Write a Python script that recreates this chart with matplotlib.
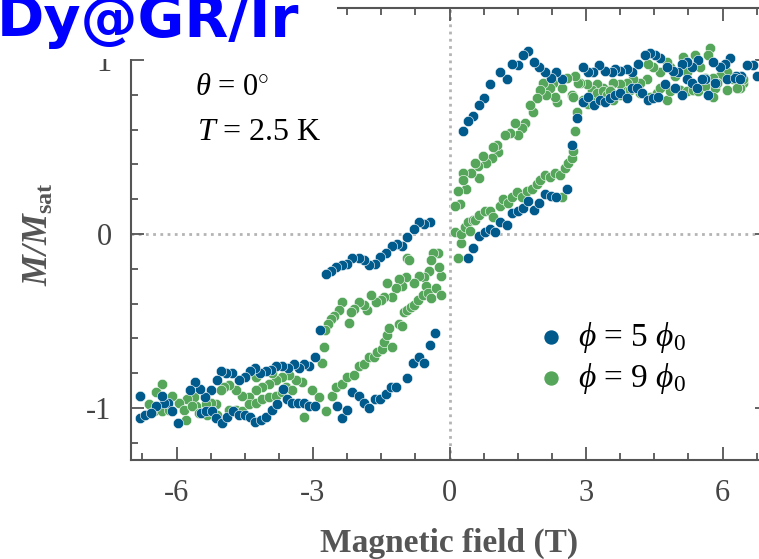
import numpy as np
import matplotlib
matplotlib.use("Agg")
import matplotlib.pyplot as plt
from matplotlib.ticker import MultipleLocator
from matplotlib.patches import Rectangle

# phi = 5 phi_0, field sweeping down (+ -> -)
field_5_down = [6.76, 6.67, 6.54, 6.41, 6.30, 6.17, 6.06, 5.95, 5.79, 5.62, 5.46, 5.33, 5.22, 5.11,
                5.02, 4.91, 4.78, 4.63, 4.52, 4.41, 4.30, 4.14, 4.01, 3.90, 3.74, 3.63, 3.57, 3.41,
                3.28, 3.15, 3.04, 2.93, 2.47, 2.33, 2.22, 2.09, 1.96, 1.85, 1.72, 1.61, 1.50, 1.37,
                1.26, 1.12, 0.90, 0.75, 0.64, 0.51, 0.40, 0.29,
                -0.42, -0.55, -0.68, -0.79, -0.93, -1.04, -1.15, -1.26, -1.39, -1.52, -1.63, -1.76,
                -1.87, -2.00, -2.14, -2.25, -2.36, -2.49, -2.60, -2.71, -2.84, -2.95, -3.08, -3.19,
                -3.30, -3.41, -3.55, -3.68, -3.81, -3.92, -4.03, -4.16, -4.27, -4.38, -4.49, -4.63,
                -4.78, -4.91, -5.02, -5.11, -5.24, -5.37, -5.48, -5.59, -5.70, -6.19, -6.28, -6.32,
                -6.45, -6.81]
m_5_down = [0.91, 0.97, 0.97, 0.91, 0.91, 1.01, 0.98, 0.96, 0.99, 0.89, 1.00, 0.96, 0.99, 0.98,
            0.93, 0.94, 0.96, 1.01, 1.03, 1.04, 1.03, 0.98, 0.93, 0.95, 0.94, 0.95, 0.93, 0.94,
            0.97, 0.93, 0.93, 0.96, 0.89, 0.93, 0.90, 0.93, 0.96, 0.99, 1.05, 1.03, 0.97, 0.98,
            0.89, 0.93, 0.86, 0.78, 0.74, 0.68, 0.65, 0.59,
            0.07, 0.06, 0.07, 0.03, -0.02, -0.07, -0.06, -0.07, -0.11, -0.13, -0.17, -0.18,
            -0.15, -0.14, -0.14, -0.17, -0.18, -0.19, -0.21, -0.23, -0.55, -0.71, -0.76, -0.75,
            -0.77, -0.75, -0.77, -0.76, -0.76, -0.78, -0.79, -0.80, -0.77, -0.79, -0.82, -0.84,
            -0.80, -0.80, -0.79, -0.84, -0.90, -0.94, -0.89, -0.85, -0.90, -0.97, -0.97, -0.93,
            -0.99, -0.93]

# phi = 5 phi_0, field sweeping up (- -> +)
field_5_up = [-6.81, -6.70, -6.56, -6.10, -5.97, -5.46, -5.35, -5.22, -5.13, -5.00, -4.89, -4.76,
              -4.63, -4.49, -4.38, -4.27, -4.14, -4.03, -3.90, -3.79, -3.66, -3.57, -3.46, -3.32,
              -3.19, -3.08, -2.95, -2.47, -2.36, -2.25, -2.14, -2.00, -1.87, -1.76, -1.63, -1.52,
              -1.39, -1.28, -1.17, -0.93, -0.81, -0.68, -0.55, -0.42, -0.31,
              0.40, 0.51, 0.64, 0.77, 0.90, 1.01, 1.12, 1.26, 1.37, 1.50, 1.61, 1.72, 1.85, 1.96,
              2.09, 2.22, 2.33, 2.58, 2.69, 2.80, 2.93, 3.04, 3.17, 3.30, 3.41, 3.52, 3.63, 3.74,
              3.90, 4.01, 4.12, 4.23, 4.36, 4.47, 4.58, 4.74, 4.96, 5.11, 5.22, 5.33, 5.44, 5.55,
              5.68, 5.84, 6.10, 6.28, 6.39]
m_5_up = [-1.06, -1.04, -1.03, -1.02, -1.09, -1.03, -1.02, -1.02, -1.06, -1.09, -1.05, -1.02,
          -1.04, -1.04, -1.05, -1.08, -1.07, -1.05, -1.01, -0.98, -0.89, -0.95, -0.97, -0.97,
          -0.97, -0.99, -0.99, -0.99, -1.06, -1.01, -0.91, -0.93, -0.97, -1.00, -0.95, -0.95,
          -0.92, -0.88, -0.88, -0.83, -0.74, -0.71, -0.74, -0.64, -0.57,
          -0.14, -0.08, -0.01, 0.01, 0.03, 0.01, 0.07, 0.05, 0.12, 0.13, 0.15, 0.19, 0.14, 0.18,
          0.23, 0.22, 0.21, 0.26, 0.51, 0.67, 0.76, 0.79, 0.74, 0.77, 0.76, 0.78, 0.80, 0.81,
          0.78, 0.84, 0.84, 0.81, 0.77, 0.78, 0.79, 0.86, 0.84, 0.80, 0.89, 0.87, 0.84, 0.89,
          0.80, 0.87, 0.89, 0.90, 0.89]

# phi = 9 phi_0, field sweeping down
field_9_down = [6.45, 6.39, 6.32, 6.23, 6.10, 5.95, 5.88, 5.84, 5.79, 5.73, 5.68, 5.62, 5.51, 5.46,
                5.40, 5.35, 5.22, 5.13, 5.07, 4.96, 4.85, 4.78, 4.63, 4.47, 4.36, 4.34, 4.19, 4.03,
                3.96, 3.90, 3.74, 3.59, 3.52, 3.37, 3.24, 3.13, 3.02, 2.86, 2.82, 2.75, 2.69, 2.58,
                2.47, 2.36, 2.31, 2.27, 2.20, 2.11, 2.05, 1.98, 1.92, 1.83, 1.76, 1.65, 1.59, 1.50,
                1.43, 1.32, 1.21, 1.06, 1.04, 0.95, 0.93, 0.81, 0.73, 0.64, 0.62, 0.55, 0.48, 0.37,
                0.29, 0.29, 0.18, 0.22, 0.13,
                -0.18, -0.22, -0.26, -0.37, -0.40, -0.44, -0.55, -0.66, -0.77, -0.93, -0.90, -0.95,
                -1.04, -1.10, -1.17, -1.26, -1.37, -1.43, -1.50, -1.61, -1.72, -1.81, -1.87, -1.98,
                -2.09, -2.16, -2.20, -2.36, -2.42, -2.53, -2.60, -2.66, -2.73, -2.75, -2.80, -3.02,
                -3.24, -3.37, -3.52, -3.68, -3.81, -3.90, -3.96, -4.12, -4.25, -4.25, -4.41, -4.56,
                -4.69, -4.85, -4.96, -5.02, -5.13, -5.24, -5.35, -5.57, -5.62, -5.77, -5.95, -6.10,
                -6.32, -6.45, -6.61, -6.80]
m_9_down = [0.87, 0.84, 0.84, 0.89, 0.93, 0.91, 0.87, 0.84, 0.90, 1.07, 1.03, 0.90, 0.96, 0.83,
            1.03, 0.83, 0.93, 1.02, 0.83, 0.91, 0.96, 0.99, 0.93, 0.96, 0.98, 0.89, 0.87, 0.89,
            0.83, 0.87, 0.86, 0.87, 0.83, 0.84, 0.86, 0.83, 0.86, 0.87, 0.87, 0.91, 0.80, 0.90,
            0.84, 0.76, 0.79, 0.87, 0.84, 0.80, 0.87, 0.83, 0.78, 0.70, 0.74, 0.64, 0.61, 0.57,
            0.64, 0.58, 0.57, 0.47, 0.51, 0.50, 0.44, 0.41, 0.45, 0.32, 0.39, 0.41, 0.35, 0.26,
            0.35, 0.31, 0.25, 0.17, 0.16,
            -0.24, -0.19, -0.11, -0.11, -0.15, -0.21, -0.25, -0.24, -0.28, -0.14, -0.15, -0.25,
            -0.30, -0.26, -0.31, -0.36, -0.28, -0.36, -0.38, -0.39, -0.35, -0.44, -0.41, -0.39,
            -0.43, -0.45, -0.51, -0.39, -0.44, -0.47, -0.49, -0.52, -0.55, -0.65, -0.74, -0.90,
            -0.85, -0.84, -0.81, -0.82, -0.84, -0.80, -0.86, -0.88, -0.90, -0.82, -0.94, -0.93,
            -0.90, -0.87, -0.88, -0.90, -0.98, -0.97, -0.98, -0.99, -0.94, -0.95, -0.97, -0.93,
            -0.86, -0.91, -0.98, -0.93]

# phi = 9 phi_0, field sweeping up
field_9_up = [-6.50, -6.32, -6.17, -5.84, -5.79, -5.66, -5.51, -5.33, -5.22, -5.11, -4.85, -4.69,
              -4.56, -4.41, -4.25, -4.12, -3.96, -3.81, -3.68, -3.59, -3.46, -3.19, -2.86, -2.71,
              -2.58, -2.49, -2.36, -2.25, -2.09, -1.98, -1.87, -1.76, -1.65, -1.59, -1.48, -1.43,
              -1.37, -1.32, -1.26, -1.10, -1.04, -0.99, -0.93, -0.84, -0.77, -0.70, -0.59, -0.51,
              -0.48, -0.40, -0.29, -0.18,
              0.11, 0.18, 0.26, 0.26, 0.33, 0.40, 0.44, 0.51, 0.57, 0.64, 0.77, 0.88, 0.95, 1.10,
              1.17, 1.28, 1.37, 1.48, 1.59, 1.70, 1.81, 1.92, 1.98, 2.09, 2.20, 2.31, 2.42, 2.47,
              2.53, 2.60, 2.69, 2.71, 2.75, 2.80, 2.71, 2.93, 3.04, 3.15, 3.24, 3.37, 3.46, 3.52,
              3.59, 3.74, 3.90, 3.96, 4.19, 4.41, 4.56, 4.63, 4.78, 4.85, 5.07, 5.22, 5.35, 5.46,
              5.62, 5.79, 5.88, 6.10, 6.32, 6.45]
m_9_up = [-1.02, -1.02, -1.01, -1.01, -1.07, -0.99, -1.03, -1.04, -1.02, -1.04, -1.01, -1.01,
          -1.02, -0.98, -0.97, -0.95, -0.94, -0.93, -0.91, -0.88, -0.90, -1.05, -0.94, -1.02,
          -0.93, -0.88, -0.86, -0.82, -0.81, -0.76, -0.75, -0.71, -0.71, -0.68, -0.66, -0.62,
          -0.58, -0.54, -0.65, -0.52, -0.53, -0.45, -0.44, -0.42, -0.41, -0.38, -0.35, -0.30,
          -0.34, -0.37, -0.31, -0.35,
          0.01, -0.14, -0.05, 0.00, 0.04, 0.07, 0.02, 0.08, 0.08, 0.11, 0.13, 0.13, 0.10, 0.16,
          0.20, 0.18, 0.21, 0.24, 0.21, 0.25, 0.26, 0.29, 0.31, 0.34, 0.33, 0.35, 0.34, 0.21,
          0.38, 0.41, 0.44, 0.48, 0.59, 0.70, 0.79, 0.77, 0.75, 0.79, 0.81, 0.82, 0.80, 0.82,
          0.77, 0.80, 0.82, 0.83, 0.81, 0.79, 0.81, 0.84, 0.77, 0.82, 0.83, 0.82, 0.83, 0.82,
          0.85, 0.79, 0.87, 0.83, 0.84, 0.89]

BLUE = "#005a8c"
GREEN = "#55a65b"
AXIS_GRAY = "#555555"

plt.rcParams["font.family"] = ["Liberation Serif", "DejaVu Serif"]
plt.rcParams["mathtext.fontset"] = "custom"
plt.rcParams["mathtext.rm"] = "Liberation Serif"
plt.rcParams["mathtext.it"] = "Liberation Serif:italic"
plt.rcParams["mathtext.bf"] = "Liberation Serif:bold"
plt.rcParams["mathtext.bfit"] = "Liberation Serif:italic:bold"
plt.rcParams["axes.unicode_minus"] = False

fig = plt.figure(figsize=(7.59, 5.59), dpi=100)
ax = fig.add_axes([131 / 759, 99 / 559, 637 / 759, 452 / 559])

ax.axhline(0, color="#b4b4b4", ls=(0, (1, 1.6)), lw=2, zorder=1)
ax.axvline(0, color="#b4b4b4", ls=(0, (1, 1.6)), lw=2, zorder=1)

marker_kw = dict(s=56, edgecolors="white", linewidths=0.4, zorder=3)
ax.scatter(field_9_down + field_9_up, m_9_down + m_9_up, color=GREEN, **marker_kw)
ax.scatter(field_5_down + field_5_up, m_5_down + m_5_up, color=BLUE, **marker_kw)

ax.set_xlim(-7, 7)
ax.set_ylim(-1.3, 1.3)
ax.xaxis.set_major_locator(MultipleLocator(3))
ax.xaxis.set_minor_locator(MultipleLocator(0.75))
ax.yaxis.set_major_locator(MultipleLocator(1))
ax.yaxis.set_minor_locator(MultipleLocator(0.2))
ax.tick_params(which="both", direction="in", top=True, right=True, color=AXIS_GRAY, width=1.3)
ax.tick_params(which="major", length=9.5, labelsize=22, labelcolor="#444444", pad=14)
ax.tick_params(which="minor", length=5)
for sp in ax.spines.values():
    sp.set_color(AXIS_GRAY)
    sp.set_linewidth(1.5)

ax.set_xlabel("Magnetic field (T)", fontsize=24, fontweight="bold", color=AXIS_GRAY, labelpad=14)
ax.set_ylabel(r"$\mathbfit{M/M}_{\mathbf{sat}}$", fontsize=25, color=AXIS_GRAY, labelpad=22)

ax.text(-5.6, 0.80, r"$\theta$ = 0$^{\circ}$", fontsize=22, va="baseline")
ax.text(-5.55, 0.54, r"$T$ = 2.5 K", fontsize=23, va="baseline")

h5 = ax.scatter([], [], s=56, color=BLUE)
h9 = ax.scatter([], [], s=56, color=GREEN)
ax.legend([h5, h9], [r"$\phi$ = 5 $\phi_0$", r"$\phi$ = 9 $\phi_0$"],
          loc="center left", bbox_to_anchor=(0.636, 0.226), frameon=False, fontsize=24,
          handlelength=0.9, handletextpad=0.35, labelspacing=0.2, borderpad=0,
          borderaxespad=0, markerscale=1.25)

# sample label in the top-left corner, on a white patch
fig.patches.append(Rectangle((0, 1 - 59 / 559), 337 / 759, 59 / 559, transform=fig.transFigure,
                             facecolor="white", edgecolor="none", zorder=2))
fig.text(-0.004, 1 - 37 / 559, "Dy@GR/Ir", fontsize=41, fontweight="bold", color="#0000ff",
         family="DejaVu Sans", va="baseline", zorder=3)

fig.savefig("out.png", dpi=100)
